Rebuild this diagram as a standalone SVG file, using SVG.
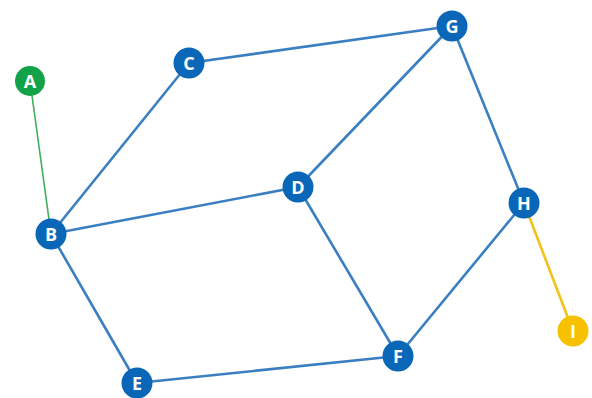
<svg xmlns="http://www.w3.org/2000/svg" width="592" height="398" viewBox="0 0 592 398">
<style>
.e{stroke:#3a7fc1;stroke-width:2.6;fill:none}
.n circle{stroke:none}
.b{fill:#0a67b8}
.g{fill:#12a24a}
.y{fill:#f8c100}
text{font-family:"Open Sans","Liberation Sans",sans-serif;font-size:18px;font-weight:bold;fill:#fff;text-anchor:middle;dominant-baseline:central}
</style>
<rect width="592" height="398" fill="#fff"/>
<g id="edges">
<line x1="30" y1="81" x2="51" y2="234" stroke="#3fae5c" stroke-width="1.6"/>
<line x1="524" y1="203" x2="573" y2="331" stroke="#f3c21a" stroke-width="2.6"/>
<line class="e" x1="51" y1="234" x2="189" y2="63"/>
<line class="e" x1="189" y1="63" x2="452" y2="26"/>
<line class="e" x1="452" y1="26" x2="298" y2="187"/>
<line class="e" x1="298" y1="187" x2="51" y2="234"/>
<line class="e" x1="51" y1="234" x2="137" y2="383"/>
<line class="e" x1="137" y1="383" x2="398" y2="356"/>
<line class="e" x1="398" y1="356" x2="298" y2="187"/>
<line class="e" x1="398" y1="356" x2="524" y2="203"/>
<line class="e" x1="524" y1="203" x2="452" y2="26"/>
</g>
<g id="A" class="n"><circle class="g" cx="30" cy="81" r="15"/><text x="30" y="81">A</text></g>
<g id="B" class="n"><circle class="b" cx="51" cy="234" r="15.5"/><text x="51" y="234">B</text></g>
<g id="C" class="n"><circle class="b" cx="189" cy="63" r="15.5"/><text x="189" y="63">C</text></g>
<g id="D" class="n"><circle class="b" cx="298" cy="187" r="15.5"/><text x="298" y="187">D</text></g>
<g id="E" class="n"><circle class="b" cx="137" cy="383" r="15.5"/><text x="137" y="383">E</text></g>
<g id="F" class="n"><circle class="b" cx="398" cy="356" r="15.5"/><text x="398" y="356">F</text></g>
<g id="G" class="n"><circle class="b" cx="452" cy="26" r="15.5"/><text x="452" y="26">G</text></g>
<g id="H" class="n"><circle class="b" cx="524" cy="203" r="15.5"/><text x="524" y="203">H</text></g>
<g id="I" class="n"><circle class="y" cx="573" cy="331" r="15.5"/><text x="573" y="331">I</text></g>
</svg>
